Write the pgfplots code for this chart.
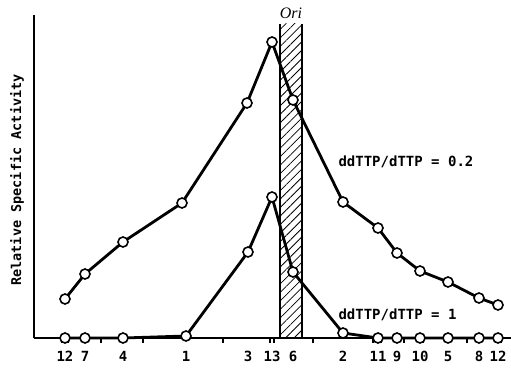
\documentclass[border=0pt]{standalone}
\usepackage{pgfplots}
\pgfplotsset{compat=1.18}
\usetikzlibrary{patterns.meta}
\usepackage{fontspec}
\setmainfont{DejaVu Sans Mono}
\newfontfamily\orifont{Liberation Serif}
\begin{document}
\begin{tikzpicture}
\begin{axis}[
  scale only axis, width=477pt, height=323pt,
  xmin=34, xmax=511, ymin=0, ymax=323,
  axis lines=left, axis line style={-, line width=2.6pt},
  clip=false,
  ytick=\empty,
  xtick={62,68,101,143,223,270,274,313,373,381,404,423,467,496,501},
  xticklabels={},
  tick align=outside, major tick length=5pt,
  tick style={line width=1.8pt, black},
  extra x ticks={65,85,123,186,248,272,293,343,378,397,420,448,479,498},
  extra x tick labels={12,7,4,1,3,13,6,2,11,9,10,5,8,12},
  extra x tick style={major tick length=0pt, tick label style={font=\bfseries\fontsize{14}{14}\selectfont, anchor=north, yshift=-10pt}},
  ylabel={\bfseries Relative Specific Activity},
  ylabel style={at={(axis cs:17,158)}, anchor=center, font=\bfseries\fontsize{13.5}{13.5}\selectfont},
]
\fill[pattern={Lines[angle=45,distance=6pt,line width=0.8pt]}] (axis cs:280,0) rectangle (axis cs:302,314);
\draw[line width=1.8pt] (axis cs:280,0) -- (axis cs:280,314);
\draw[line width=1.8pt] (axis cs:302,0) -- (axis cs:302,314);
\node[font=\orifont\itshape\fontsize{16}{16}\selectfont] at (axis cs:291,325) {Ori};
\addplot[line width=2.8pt, mark=*, mark size=5pt, mark options={fill=white, draw=black, line width=1.6pt}] coordinates {
(65,39) (85,64) (123,96) (182,135) (247,235) (272,296) (293,238) (343,136) (378,110) (397,85) (420,67) (448,56) (479,40) (498,33)
};
\addplot[line width=2.8pt, mark=*, mark size=5pt, mark options={fill=white, draw=black, line width=1.6pt}] coordinates {
(65,0) (85,0) (123,0) (186,2) (248,86) (272,141) (293,66) (343,5) (378,0) (397,0) (420,0) (448,0) (479,0) (498,0)
};
\node[anchor=west, font=\bfseries\fontsize{14}{14}\selectfont] at (axis cs:335,176) {ddTTP/dTTP = 0.2};
\node[anchor=west, font=\bfseries\fontsize{14}{14}\selectfont] at (axis cs:335,23) {ddTTP/dTTP = 1};
\coordinate (bbll) at (axis cs:0,-31);
\coordinate (bbur) at (axis cs:511,338);
\end{axis}
\pgfresetboundingbox
\path (bbll) rectangle (bbur);
\end{tikzpicture}
\end{document}
